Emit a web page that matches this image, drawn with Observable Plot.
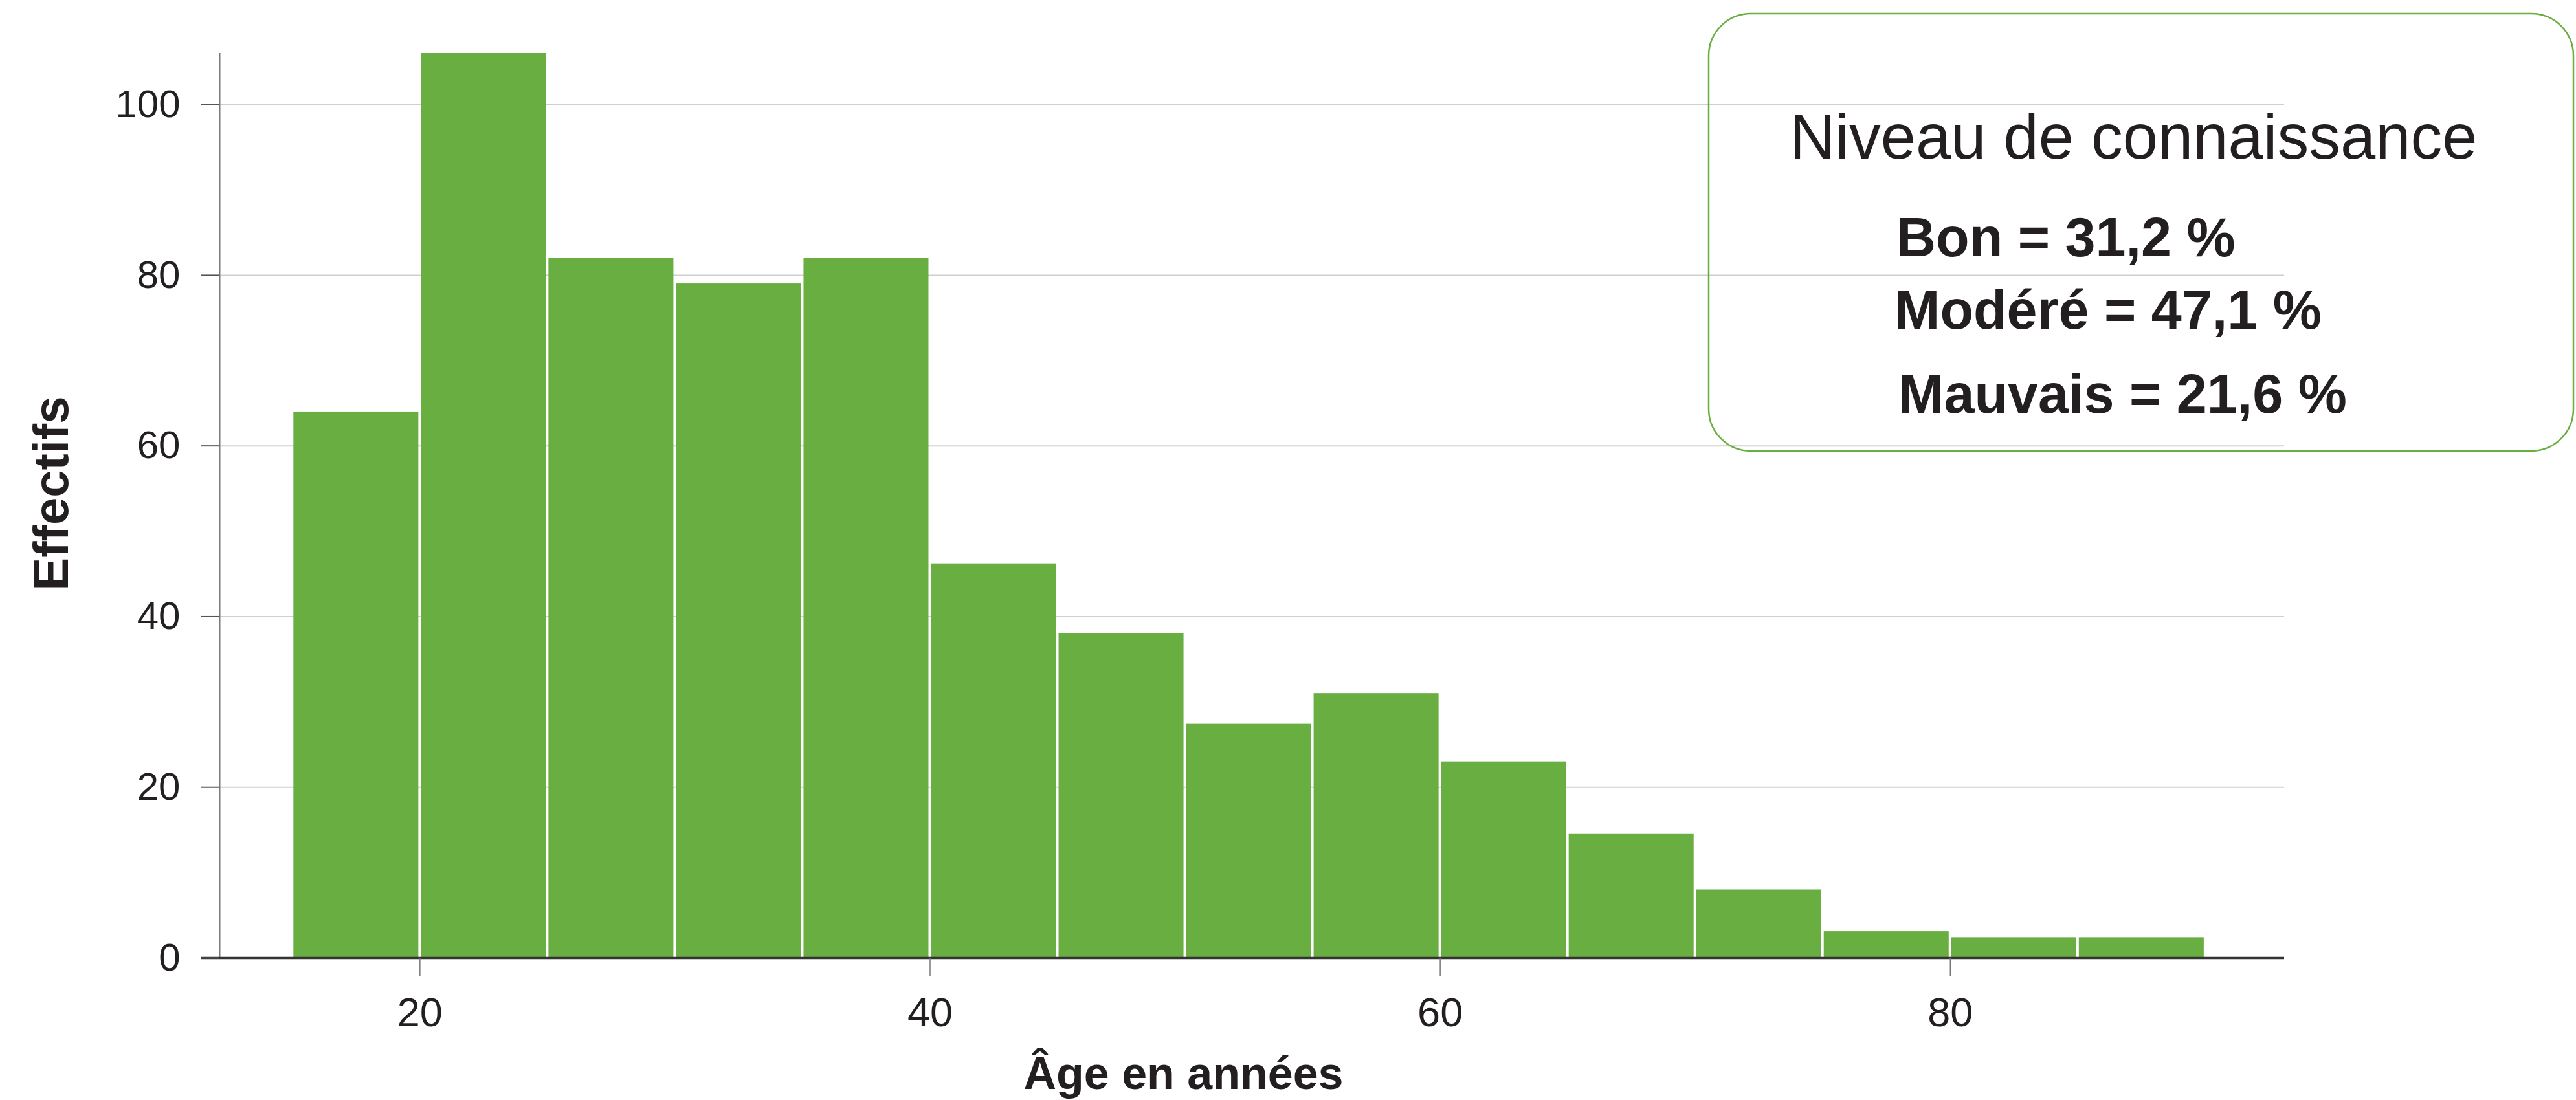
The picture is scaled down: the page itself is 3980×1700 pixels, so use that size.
<!DOCTYPE html>
<html>
<head>
<meta charset="utf-8">
<script src="https://cdn.jsdelivr.net/npm/d3@7"></script>
<script src="https://cdn.jsdelivr.net/npm/@observablehq/plot@0.6"></script>
<style>
  html, body { margin: 0; padding: 0; background: #fff; }
  #wrap { position: relative; width: 3980px; height: 1700px; overflow: hidden; }
  #legend { position: absolute; left: 0; top: 0; pointer-events: none; }
</style>
</head>
<body>
<div id="wrap"></div>
<script>
// ---- data ----
const binStarts = [15, 20, 25, 30, 35, 40, 45, 50, 55, 60, 65, 70, 75, 80, 85];
const binWidth = 5;
const counts = [64, 106, 82, 79, 82, 46.2, 38, 27.4, 31, 23, 14.5, 8, 3.1, 2.4, 2.4];
const xTicks = [20, 40, 60, 80];
const yTicks = [0, 20, 40, 60, 80, 100];
const xLabel = "Âge en années";
const yLabel = "Effectifs";
const legendTitle = "Niveau de connaissance";
const legendLines = ["Bon = 31,2 %", "Modéré = 47,1 %", "Mauvais = 21,6 %"];

const bins = binStarts.map((s, i) => ({x1: s, x2: s + binWidth, count: counts[i]}));

const green = "#69ae40";
const ink = "#231f20";
const font = "'Liberation Sans', Arial, Helvetica, sans-serif";

const chart = Plot.plot({
  width: 3980,
  height: 1700,
  marginLeft: 339,
  marginRight: 451,
  marginTop: 82,
  marginBottom: 220,
  style: {fontFamily: font, fontSize: "60px", color: ink, background: "#fff", overflow: "visible"},
  x: {domain: [12.15, 93.1], label: null},
  y: {domain: [0, 106], label: null},
  marks: [
    Plot.gridY(yTicks, {stroke: "#cfcfcf", strokeOpacity: 1, strokeWidth: 2}),
    Plot.rectY(bins, {x1: "x1", x2: "x2", y: "count", fill: green, insetLeft: 2, insetRight: 2}),
    Plot.ruleX([12.15], {y1: 0, y2: 106, stroke: "#7a7a7a", strokeWidth: 2}),
    Plot.ruleY([0], {stroke: "#333", strokeWidth: 3.5, insetLeft: -29}),
    Plot.axisX(xTicks, {tickSize: 29, tickPadding: 32, fontSize: 63, stroke: "#777", strokeWidth: 1.5, fill: ink, label: null}),
    Plot.axisY(yTicks, {tickSize: 29, tickPadding: 32, fontSize: 60, stroke: "#555", strokeWidth: 2, fill: ink, label: null}),
    Plot.text([yLabel], {text: d => d, frameAnchor: "left", rotate: -90, dx: -259, dy: -19,
      fontSize: 76, fontWeight: "bold", fill: ink, textAnchor: "middle", lineAnchor: "middle"}),
    Plot.text([xLabel], {text: d => d, frameAnchor: "bottom", dx: -106, dy: 180,
      fontSize: 70, fontWeight: "bold", fill: ink, textAnchor: "middle", lineAnchor: "middle"})
  ]
});

const wrap = document.getElementById("wrap");
wrap.appendChild(chart);

// ---- legend box overlay ----
const svg = d3.create("svg")
  .attr("id", "legend")
  .attr("width", 3980)
  .attr("height", 1700)
  .style("font-family", font);

svg.append("rect")
  .attr("x", 2640).attr("y", 21)
  .attr("width", 1336).attr("height", 676)
  .attr("rx", 65).attr("ry", 65)
  .attr("fill", "none")
  .attr("stroke", green)
  .attr("stroke-width", 2.5);

svg.append("text")
  .attr("x", 2765).attr("y", 245)
  .attr("font-size", 97.5)
  .attr("fill", ink)
  .text(legendTitle);

const lineX = [2930, 2927, 2933];
const lineY = [396, 508, 638];
legendLines.forEach((t, i) => {
  svg.append("text")
    .attr("x", lineX[i]).attr("y", lineY[i])
    .attr("font-size", 84.5)
    .attr("font-weight", "bold")
    .attr("fill", ink)
    .text(t);
});

wrap.appendChild(svg.node());
</script>
</body>
</html>
